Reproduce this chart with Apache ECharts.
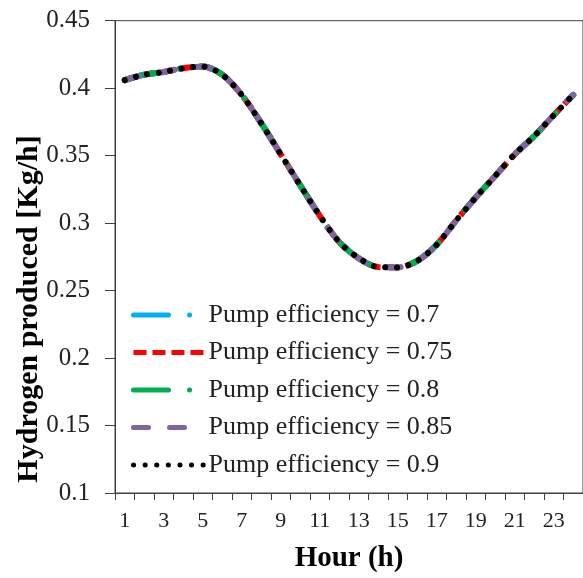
<!DOCTYPE html>
<html><head><meta charset="utf-8">
<script src="https://cdn.jsdelivr.net/npm/echarts@6/dist/echarts.min.js"></script>
<style>html,body{margin:0;padding:0;background:#fff}#c{width:583px;height:578px}</style>
</head><body><div id="c"></div>
<script>
const hours = ['1','2','3','4','5','6','7','8','9','10','11','12','13','14','15','16','17','18','19','20','21','22','23','24'];
const seriesNames = ['Pump efficiency = 0.7','Pump efficiency = 0.75','Pump efficiency = 0.8','Pump efficiency = 0.85','Pump efficiency = 0.9'];
const eff070 = [0.406,0.410,0.412,0.4148,0.416,0.410,0.395,0.374,0.351,0.328,0.3055,0.286,0.274,0.2674,0.2672,0.272,0.284,0.302,0.319,0.335,0.351,0.3645,0.380,0.395];
const eff075 = [0.406,0.410,0.412,0.4148,0.416,0.410,0.395,0.374,0.351,0.328,0.3055,0.286,0.274,0.2674,0.2672,0.272,0.284,0.302,0.319,0.335,0.351,0.3645,0.380,0.395];
const eff080 = [0.406,0.410,0.412,0.4148,0.416,0.410,0.395,0.374,0.351,0.328,0.3055,0.286,0.274,0.2674,0.2672,0.272,0.284,0.302,0.319,0.335,0.351,0.3645,0.380,0.395];
const eff085 = [0.406,0.410,0.412,0.4148,0.416,0.410,0.395,0.374,0.351,0.328,0.3055,0.286,0.274,0.2674,0.2672,0.272,0.284,0.302,0.319,0.335,0.351,0.3645,0.380,0.395];
const eff090 = [0.406,0.410,0.412,0.4148,0.416,0.410,0.395,0.374,0.351,0.328,0.3055,0.286,0.274,0.2674,0.2672,0.272,0.284,0.302,0.319,0.335,0.351,0.3645,0.380,0.395];
const yTitle = 'Hydrogen produced [Kg/h]';
const xTitle = 'Hour (h)';

const FONT = '"Liberation Serif","Times New Roman",serif';
const AX = '#404040';
const styles = [
  {color:'#00B0F0', width:6, type:[35,21,0.1,21], cap:'round'},
  {color:'#FF0000', width:6, type:[13,6], cap:'butt'},
  {color:'#00B050', width:6, type:[35,21,0.1,21], cap:'round'},
  {color:'#8064A2', width:6, type:[15,21], cap:'round'},
  {color:'#000000', width:6, type:[0.1,11.5], cap:'round'}
];
const dataSets = [eff070, eff075, eff080, eff085, eff090];

const chart = echarts.init(document.getElementById('c'), null, {renderer:'canvas'});
chart.setOption({
  animation:false,
  backgroundColor:'#fff',
  grid:{left:115, top:20.7, width:476, height:474.8, show:true, borderColor:AX, borderWidth:1, backgroundColor:'transparent'},
  xAxis:{
    type:'category', data:hours, boundaryGap:true,
    name:xTitle, nameLocation:'middle', nameGap:51,
    nameTextStyle:{fontFamily:FONT, fontSize:29, fontWeight:'bold', color:'#000'},
    axisLine:{lineStyle:{color:AX, width:1}},
    axisTick:{show:true, interval:0, length:7, lineStyle:{color:AX}},
    axisLabel:{interval:1, margin:17, fontFamily:FONT, fontSize:22, color:'#222'},
    splitLine:{show:false}
  },
  yAxis:{
    type:'value', min:0.1, max:0.45, interval:0.05,
    axisLine:{show:true, lineStyle:{color:AX, width:1}},
    axisTick:{show:true, length:10, lineStyle:{color:AX}},
    axisLabel:{margin:25, fontFamily:FONT, fontSize:25, color:'#222',
      formatter:v=>String(parseFloat(v.toFixed(2)))},
    splitLine:{show:false}
  },
  legend:{
    data:seriesNames, orient:'vertical', left:131, top:302, padding:0,
    itemWidth:70, itemHeight:14, itemGap:11.5,
    itemStyle:{opacity:0},
    lineStyle:{width:5},
    textStyle:{fontFamily:FONT, fontSize:26, color:'#222', lineHeight:26}
  },
  graphic:[{
    type:'text', x:29, y:309, rotation:Math.PI/2,
    style:{text:yTitle, font:'bold 30px ' + FONT, fill:'#000', align:'center', verticalAlign:'middle'}
  }],
  series: seriesNames.map((n,i)=>({
    name:n, type:'line', data:dataSets[i], symbol:'none', smooth:0.3,
    lineStyle:styles[i], itemStyle:{color:styles[i].color}, z:2+i
  }))
});
</script></body></html>
